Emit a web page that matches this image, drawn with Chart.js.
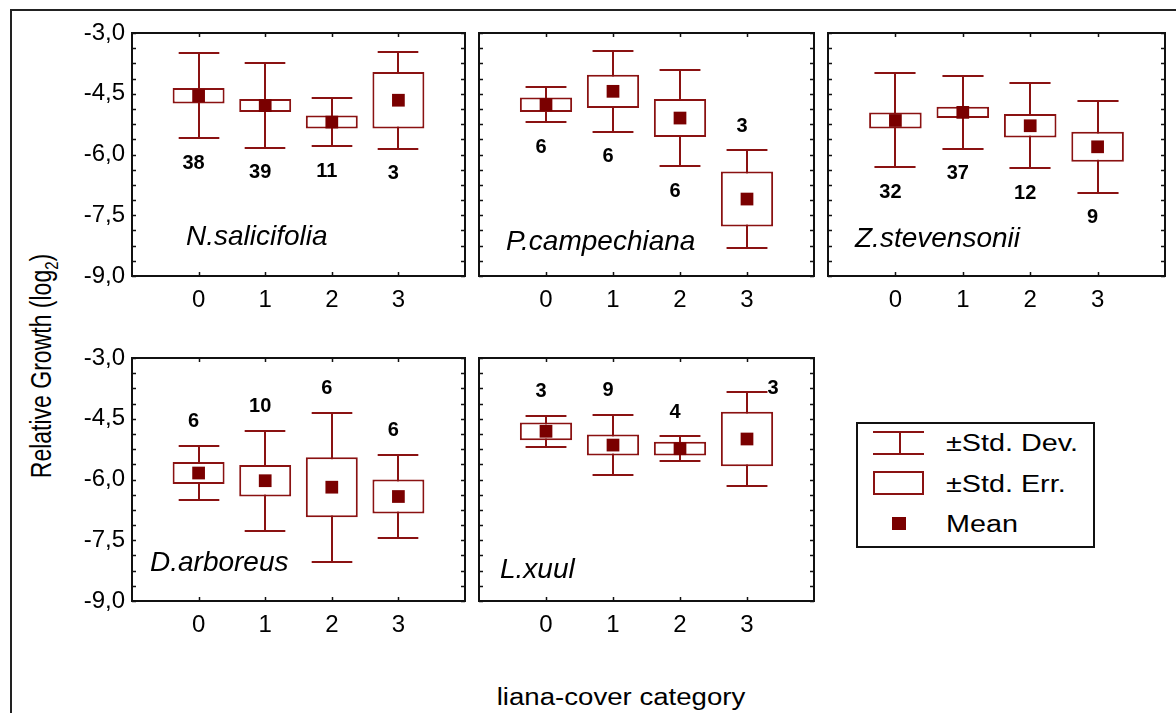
<!DOCTYPE html>
<html>
<head>
<meta charset="utf-8">
<script src="https://cdn.jsdelivr.net/npm/chart.js@4/dist/chart.umd.min.js"></script>
<style>
  body { margin: 0; background: #fff; width: 1176px; height: 713px; overflow: hidden; position: relative;
         font-family: 'Liberation Sans', Arial, sans-serif; color: #000; }
  .frame { position: absolute; left: 10px; top: 9px; width: 1300px; height: 900px;
           border-left: 2px solid #222; border-top: 2px solid #222; }
  canvas.panel { position: absolute; }
  .ytitle { position: absolute; left: 43px; top: 366px; font-size: 23px; white-space: nowrap;
            transform: translate(-50%, -50%) rotate(-90deg) scaleY(1.25); }
  .ytitle sub { font-size: 15px; }
  .xtitle { position: absolute; left: 621px; top: 697px; font-size: 23px; white-space: nowrap;
            transform: translate(-50%, -50%) scaleX(1.2); }
  .legend { position: absolute; left: 856px; top: 422px; width: 235px; height: 122px; border: 2px solid #111; }
  .legend .txt { position: absolute; left: 88px; font-size: 23px; white-space: nowrap;
                 transform: translateY(-50%) scaleX(1.25); transform-origin: left center; }
  .sym { position: absolute; box-sizing: border-box; }
</style>
</head>
<body>
<div class="frame"></div>
<div class="ytitle">Relative Growth (log<sub>2</sub>)</div>
<div class="xtitle">liana-cover category</div>

<div class="legend">
  <div class="sym" style="left:15px;top:7px;width:51px;height:2px;background:#8a1212"></div>
  <div class="sym" style="left:41px;top:7px;width:2px;height:23px;background:#8a1212"></div>
  <div class="sym" style="left:15px;top:29px;width:51px;height:2px;background:#8a1212"></div>
  <div class="txt" style="top:19px">±Std. Dev.</div>
  <div class="sym" style="left:15px;top:47px;width:51px;height:24px;border:2px solid #8a1212"></div>
  <div class="txt" style="top:60px">±Std. Err.</div>
  <div class="sym" style="left:34px;top:93px;width:14px;height:13px;background:#7a0000"></div>
  <div class="txt" style="top:100px">Mean</div>
</div>

<canvas class="panel" id="p0"></canvas>
<canvas class="panel" id="p1"></canvas>
<canvas class="panel" id="p2"></canvas>
<canvas class="panel" id="p3"></canvas>
<canvas class="panel" id="p4"></canvas>

<script>
// liana-cover categories on the x axis
const categories = [0, 1, 2, 3];
const species = ['N.salicifolia', 'P.campechiana', 'Z.stevensonii', 'D.arboreus', 'L.xuul'];

// relative growth (log2), one row per species
const means = [
  [-4.55, -4.79, -5.20, -4.66],
  [-4.77, -4.44, -5.10, -7.10],
  [-5.16, -4.96, -5.29, -5.81],
  [-5.84, -6.03, -6.19, -6.42],
  [-4.81, -5.15, -5.24, -5.00]
];
const stdErr = [
  [0.19, 0.16, 0.16, 0.70],
  [0.18, 0.41, 0.47, 0.68],
  [0.20, 0.14, 0.29, 0.37],
  [0.27, 0.39, 0.74, 0.42],
  [0.22, 0.26, 0.17, 0.67]
];
const stdDev = [
  [1.05, 1.04, 0.59, 1.20],
  [0.43, 1.00, 1.19, 1.21],
  [1.16, 0.90, 1.05, 1.14],
  [0.67, 1.23, 1.84, 1.03],
  [0.38, 0.75, 0.31, 1.17]
];
// sample sizes
const counts = [
  [38, 39, 11, 3],
  [6, 6, 6, 3],
  [32, 37, 12, 9],
  [6, 10, 6, 6],
  [3, 9, 4, 3]
];

// y axis: labelled ticks plus minor step
const yTickValues = [-9, -7.5, -6, -4.5, -3];
const yMinorStep = 0.375;

// layout: plot area [left, top, width, height] of each panel
const panelBoxes = [
  [132, 33, 333, 243], [479, 33, 335, 243], [828, 33, 337, 243],
  [132, 358, 333, 243], [479, 358, 335, 243]
];
const showYLabels = [true, false, false, true, false];
// where the n labels sit: b = under the lower whisker, a = over the upper one, r = right of the upper one
const countSide = ['bbbb', 'bbba', 'bbbb', 'aaaa', 'aaar'];
// species name offset from plot corner (x, baseline)
const nameAt = [[54, 212], [27, 217], [27, 214], [18, 213], [21, 220]];

const lineRed = '#8a1212';
const meanRed = '#7a0000';
const FONT = "'Liberation Sans', Arial, sans-serif";
const PAD_TOP = 16, PAD_RIGHT = 8, X_H = 50;

const fmt = v => v.toFixed(1).replace('.', ',');

const boxPlot = {
  id: 'boxPlot',
  beforeDatasetsDraw(chart, args, opts) {
    const { ctx, scales: { x, y } } = chart;
    const i = opts.panel;
    ctx.save();
    ctx.strokeStyle = lineRed;
    ctx.lineWidth = 2;
    categories.forEach((c, k) => {
      const cx = Math.round(x.getPixelForValue(c));
      const hi = Math.round(y.getPixelForValue(means[i][k] + stdDev[i][k]));
      const lo = Math.round(y.getPixelForValue(means[i][k] - stdDev[i][k]));
      const half = x.getPixelForValue(c + 0.305) - x.getPixelForValue(c);
      ctx.beginPath();
      ctx.moveTo(cx, hi); ctx.lineTo(cx, lo);
      ctx.moveTo(cx - half, hi); ctx.lineTo(cx + half, hi);
      ctx.moveTo(cx - half, lo); ctx.lineTo(cx + half, lo);
      ctx.stroke();
    });
    ctx.restore();
  },
  afterDraw(chart, args, opts) {
    const { ctx, chartArea: a, scales: { x, y } } = chart;
    const i = opts.panel;
    ctx.save();
    // frame and inward ticks
    ctx.strokeStyle = '#111';
    ctx.lineWidth = 2;
    ctx.strokeRect(a.left, a.top, a.right - a.left, a.bottom - a.top);
    ctx.lineWidth = 1.5;
    ctx.beginPath();
    y.ticks.forEach(t => {
      const py = Math.round(y.getPixelForValue(t.value)) + 0.5;
      ctx.moveTo(a.left, py); ctx.lineTo(a.left + 4, py);
      ctx.moveTo(a.right, py); ctx.lineTo(a.right - 4, py);
    });
    x.ticks.forEach(t => {
      const px = Math.round(x.getPixelForValue(t.value)) + 0.5;
      ctx.moveTo(px, a.top); ctx.lineTo(px, a.top + 4);
      ctx.moveTo(px, a.bottom); ctx.lineTo(px, a.bottom - 4);
    });
    ctx.stroke();

    // n per category
    ctx.fillStyle = '#000';
    ctx.font = 'bold 20px ' + FONT;
    ctx.textAlign = 'center';
    ctx.textBaseline = 'middle';
    categories.forEach((c, k) => {
      const cx = x.getPixelForValue(c);
      const side = countSide[i][k];
      let px = cx - 5, py;
      if (side === 'b') py = y.getPixelForValue(means[i][k] - stdDev[i][k]) + 25;
      else if (side === 'a') py = y.getPixelForValue(means[i][k] + stdDev[i][k]) - 24;
      else { px = cx + 26; py = y.getPixelForValue(means[i][k] + stdDev[i][k]) - 3; }
      ctx.fillText(String(counts[i][k]), px, py);
    });

    // species name
    ctx.font = 'italic 28px ' + FONT;
    ctx.textAlign = 'left';
    ctx.textBaseline = 'alphabetic';
    ctx.fillText(species[i], a.left + nameAt[i][0], a.top + nameAt[i][1]);
    ctx.restore();
  }
};

panelBoxes.forEach((b, i) => {
  const yW = showYLabels[i] ? 72 : 8;
  const cv = document.getElementById('p' + i);
  cv.width = yW + b[2] + PAD_RIGHT;
  cv.height = PAD_TOP + b[3] + X_H;
  cv.style.left = (b[0] - yW) + 'px';
  cv.style.top = (b[1] - PAD_TOP) + 'px';

  new Chart(cv, {
    type: 'bar',
    data: {
      datasets: [
        {
          type: 'scatter',
          label: 'Mean',
          data: categories.map((c, k) => ({ x: c, y: means[i][k] })),
          pointStyle: 'rect',
          pointRadius: 9,
          pointBorderWidth: 0,
          backgroundColor: meanRed
        },
        {
          type: 'bar',
          label: '±Std. Err.',
          data: categories.map((c, k) => ({ x: c, y: [means[i][k] - stdErr[i][k], means[i][k] + stdErr[i][k]] })),
          backgroundColor: '#fff',
          borderColor: lineRed,
          borderWidth: 2,
          borderSkipped: false,
          barPercentage: 0.78,
          categoryPercentage: 1
        }
      ]
    },
    options: {
      responsive: false,
      animation: false,
      events: [],
      devicePixelRatio: 1,
      layout: { autoPadding: false, padding: { top: PAD_TOP, right: PAD_RIGHT, left: 0, bottom: 0 } },
      plugins: {
        legend: { display: false },
        tooltip: { enabled: false },
        boxPlot: { panel: i }
      },
      scales: {
        x: {
          type: 'linear',
          min: -1,
          max: 4,
          offset: false,
          afterBuildTicks: s => { s.ticks = categories.map(v => ({ value: v })); },
          afterFit: s => { s.height = X_H; s.paddingLeft = 0; s.paddingRight = 0; },
          grid: { display: false, drawTicks: false },
          border: { display: false },
          ticks: {
            autoSkip: false,
            maxRotation: 0,
            padding: 10,
            color: '#000',
            font: { family: FONT, size: 24 },
            callback: v => String(v)
          }
        },
        y: {
          type: 'linear',
          min: yTickValues[0],
          max: yTickValues[yTickValues.length - 1],
          afterBuildTicks: s => {
            const t = [];
            for (let v = s.min; v <= s.max + 1e-9; v += yMinorStep) t.push({ value: +v.toFixed(3) });
            s.ticks = t;
          },
          afterFit: s => { s.width = yW; s.paddingTop = 0; s.paddingBottom = 0; },
          grid: { display: false, drawTicks: false },
          border: { display: false },
          ticks: {
            display: showYLabels[i],
            autoSkip: false,
            padding: 7,
            color: '#000',
            font: { family: FONT, size: 24 },
            callback: v => yTickValues.some(t => Math.abs(t - v) < 1e-6) ? fmt(v) : ''
          }
        }
      }
    },
    plugins: [boxPlot]
  });
});
</script>
</body>
</html>
